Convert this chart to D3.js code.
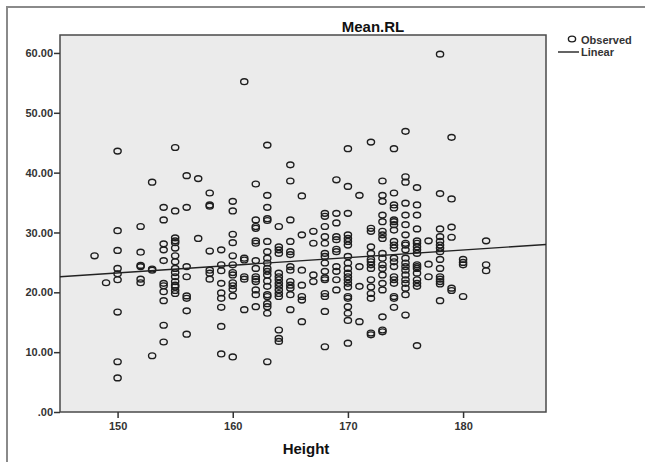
<!DOCTYPE html>
<html>
<head>
<meta charset="utf-8">
<script src="https://cdn.jsdelivr.net/npm/d3@7"></script>
<style>
  body { margin: 0; background: #fff; }
  text { font-family: "Liberation Sans", Arial, sans-serif; }
</style>
</head>
<body>
<div id="chart"></div>
<script>
// heights (x) and the Mean.RL values observed at each height
const heightGroups = [148, 149, 150, 152, 153, 154, 155, 156, 157, 158, 159, 160, 161, 162, 163, 164, 165, 166, 167, 168, 169, 170, 171, 172, 173, 174, 175, 176, 177, 178, 179, 180, 182];
const meanRLByHeight = [
  [26.1],
  [21.6],
  [43.6, 30.3, 27.0, 24.0, 23.1, 22.1, 16.7, 8.4, 5.7],
  [31.0, 26.7, 24.5, 24.3, 22.2, 21.6],
  [38.4, 23.9, 23.7, 9.4],
  [34.2, 32.1, 28.1, 27.1, 25.3, 21.5, 21.1, 20.1, 18.6, 14.5, 11.7],
  [44.2, 33.6, 29.1, 28.6, 28.3, 27.4, 26.1, 25.1, 24.0, 23.3, 22.6, 21.8, 21.2, 20.9, 20.3, 19.8],
  [39.5, 34.2, 24.3, 22.6, 19.4, 19.0, 16.9, 13.0],
  [39.0, 29.0],
  [36.6, 34.6, 34.4, 26.9, 23.7, 23.2, 22.2],
  [27.1, 24.6, 23.6, 21.5, 19.9, 19.0, 17.5, 14.3, 9.7],
  [35.2, 33.6, 29.7, 28.3, 26.1, 24.6, 23.3, 22.9, 21.6, 21.1, 20.5, 19.4, 9.2],
  [55.2, 25.7, 25.4, 22.6, 22.2, 17.1],
  [38.1, 32.1, 31.0, 30.7, 28.6, 28.2, 25.3, 24.0, 22.6, 22.2, 21.8, 20.4, 19.6, 17.6],
  [44.6, 36.2, 34.2, 32.3, 32.0, 28.5, 26.8, 25.7, 24.9, 24.0, 23.5, 22.9, 21.9, 21.0, 19.6, 19.3, 18.1, 17.6, 16.5, 8.4],
  [31.0, 27.6, 27.1, 26.5, 23.2, 22.6, 22.1, 21.5, 21.0, 20.4, 19.8, 19.3, 13.7, 12.3, 11.8],
  [41.3, 38.6, 32.1, 28.5, 26.8, 26.3, 24.3, 23.7, 21.8, 21.2, 20.7, 19.6, 17.1],
  [36.1, 29.6, 23.7, 21.2, 19.3, 18.7, 15.1],
  [30.2, 28.2, 22.9, 21.8],
  [33.2, 32.7, 31.0, 29.3, 28.2, 26.5, 26.0, 24.9, 23.5, 22.4, 22.1, 19.8, 19.3, 16.8, 10.9],
  [38.8, 33.2, 31.6, 29.3, 28.8, 27.2, 26.8, 24.3, 23.5, 22.1, 20.4],
  [44.0, 37.7, 33.2, 29.6, 29.0, 28.5, 27.9, 26.0, 24.9, 24.0, 23.2, 22.6, 22.1, 21.5, 20.9, 19.3, 19.0, 17.6, 16.5, 15.3, 11.5],
  [36.2, 24.3, 21.0, 15.1],
  [45.1, 30.7, 30.2, 27.6, 26.5, 25.5, 25.1, 24.6, 24.0, 22.1, 20.9, 19.8, 19.0, 13.2, 12.9],
  [38.6, 36.2, 35.2, 32.9, 31.8, 30.2, 29.6, 29.0, 26.5, 25.7, 24.6, 24.0, 22.9, 21.5, 20.4, 15.9, 13.7, 13.4],
  [44.0, 36.6, 34.6, 34.1, 32.1, 31.8, 31.3, 30.4, 28.5, 27.9, 27.4, 25.7, 25.1, 24.3, 22.6, 22.1, 21.5, 19.3, 19.0, 17.5],
  [46.9, 39.3, 38.4, 34.9, 32.9, 31.3, 29.6, 28.2, 27.9, 27.1, 25.7, 24.9, 24.3, 23.7, 22.9, 22.1, 21.5, 20.7, 19.6, 16.2],
  [37.5, 34.6, 32.9, 30.6, 28.6, 28.2, 27.6, 27.1, 26.5, 24.6, 24.3, 24.0, 23.2, 22.1, 21.5, 21.0, 11.1],
  [28.6, 24.7, 22.6],
  [59.8, 36.5, 30.6, 29.3, 28.5, 27.9, 27.4, 26.8, 25.5, 24.0, 22.6, 22.2, 21.8, 21.4, 18.6],
  [45.9, 35.6, 30.9, 29.2, 20.7, 20.3],
  [25.5, 25.0, 24.6, 19.3],
  [28.6, 24.6, 23.6]
];
// linear fit: Mean.RL = intercept + slope * Height
const linearFit = [4.03, 0.128];
const xTicks = [150, 160, 170, 180];
const yTicks = [0, 10, 20, 30, 40, 50, 60];

const W = 645, H = 462;
const plot = { left: 60, right: 546, top: 35, bottom: 412 };

const svg = d3.select('#chart').append('svg')
  .attr('width', W)
  .attr('height', H);

// outer frame (left and top edges)
svg.append('line').attr('x1', 7).attr('x2', 7).attr('y1', 6).attr('y2', H)
  .attr('stroke', '#8a8a8a').attr('stroke-width', 2);
svg.append('line').attr('x1', 6).attr('x2', W).attr('y1', 7).attr('y2', 7)
  .attr('stroke', '#8a8a8a').attr('stroke-width', 2);

const x = d3.scaleLinear().domain([145, 187.2]).range([plot.left, plot.right]);
const y = d3.scaleLinear().domain([0, 63]).range([plot.bottom, plot.top]);

// plot background
svg.append('rect')
  .attr('x', plot.left).attr('y', plot.top)
  .attr('width', plot.right - plot.left).attr('height', plot.bottom - plot.top)
  .attr('fill', '#ebebeb')
  .attr('stroke', '#4a4a4a').attr('stroke-width', 1.5);

// axes
const yAxis = svg.append('g')
  .attr('transform', `translate(${plot.left},0)`)
  .call(d3.axisLeft(y).tickValues(yTicks).tickSize(6).tickPadding(1)
    .tickFormat(d => d === 0 ? '.00' : d3.format('.2f')(d)));
const xAxis = svg.append('g')
  .attr('transform', `translate(0,${plot.bottom})`)
  .call(d3.axisBottom(x).tickValues(xTicks).tickSize(6).tickPadding(4));

[yAxis, xAxis].forEach(a => {
  a.select('.domain').remove();
  a.selectAll('line').attr('stroke', '#333').attr('stroke-width', 1.5);
  a.selectAll('text')
    .attr('fill', '#333')
    .style('font-size', '11px')
    .style('font-weight', 'bold');
});

// points
const points = [];
heightGroups.forEach((h, i) => {
  meanRLByHeight[i].forEach(v => points.push({ h: h, v: v }));
});

svg.append('g')
  .selectAll('ellipse')
  .data(points)
  .enter()
  .append('ellipse')
  .attr('cx', d => x(d.h))
  .attr('cy', d => y(d.v))
  .attr('rx', 3.6)
  .attr('ry', 2.9)
  .attr('fill', 'none')
  .attr('stroke', '#1e1e1e')
  .attr('stroke-width', 1.4);

// regression line
const fitX = x.domain();
svg.append('line')
  .attr('x1', x(fitX[0])).attr('y1', y(linearFit[0] + linearFit[1] * fitX[0]))
  .attr('x2', x(fitX[1])).attr('y2', y(linearFit[0] + linearFit[1] * fitX[1]))
  .attr('stroke', '#222')
  .attr('stroke-width', 1.4);

// title and axis label
svg.append('text')
  .attr('x', 373).attr('y', 32)
  .attr('text-anchor', 'middle')
  .style('font-size', '15px').style('font-weight', 'bold')
  .attr('fill', '#111')
  .text('Mean.RL');

svg.append('text')
  .attr('x', 306).attr('y', 454)
  .attr('text-anchor', 'middle')
  .style('font-size', '15px').style('font-weight', 'bold')
  .attr('fill', '#111')
  .text('Height');

// legend
const legend = svg.append('g');
legend.append('ellipse')
  .attr('cx', 572).attr('cy', 39)
  .attr('rx', 3.6).attr('ry', 2.9)
  .attr('fill', 'none').attr('stroke', '#1e1e1e').attr('stroke-width', 1.4);
legend.append('text')
  .attr('x', 581).attr('y', 44)
  .style('font-size', '11px').style('font-weight', 'bold')
  .attr('fill', '#333')
  .text('Observed');
legend.append('line')
  .attr('x1', 558).attr('x2', 579).attr('y1', 52).attr('y2', 52)
  .attr('stroke', '#222').attr('stroke-width', 1.4);
legend.append('text')
  .attr('x', 581).attr('y', 56)
  .style('font-size', '11px').style('font-weight', 'bold')
  .attr('fill', '#333')
  .text('Linear');
</script>
</body>
</html>
